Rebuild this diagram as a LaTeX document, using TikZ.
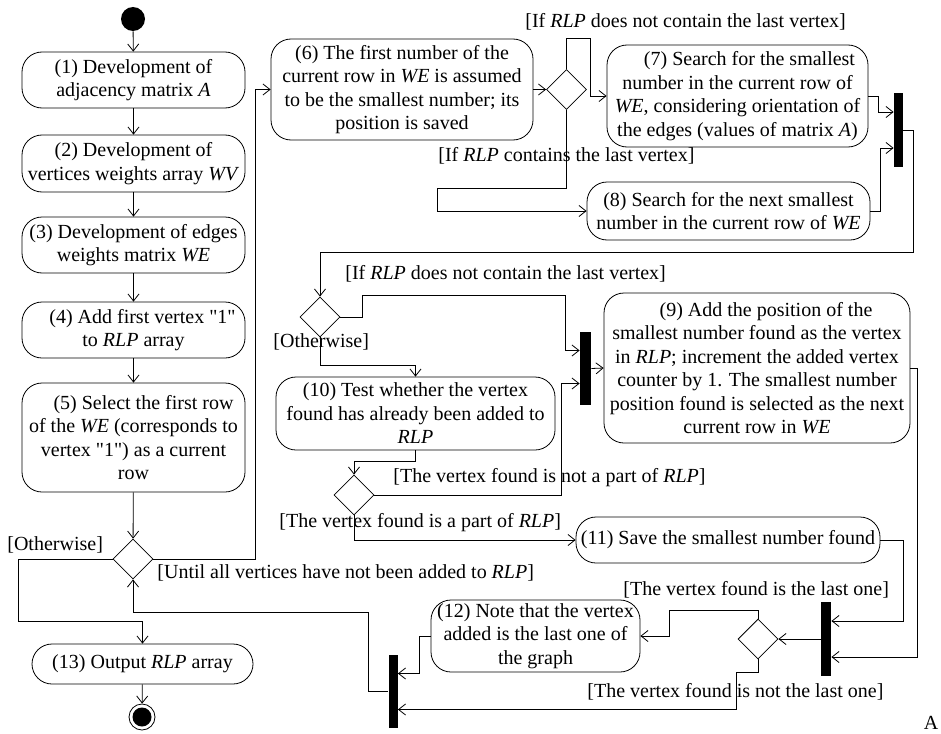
\documentclass[tikz,border=0pt]{standalone}
\usepackage{fontspec}
\setmainfont{Liberation Serif}
\newfontfamily\quotefont{Liberation Serif}
\newcommand{\dq}{{\quotefont"}}
\usetikzlibrary{shapes.geometric,arrows.meta}

\begin{document}
\begin{tikzpicture}[x=1pt, y=-1pt, line width=0.8pt,
    txt/.style={font=\fontsize{20}{23.5}\selectfont},
    act/.style={txt, draw, rounded corners=20pt, align=center, inner sep=2pt},
    choice/.style={draw, diamond, minimum width=40pt, minimum height=40pt, inner sep=0pt},
    bar/.style={fill=black, minimum width=9pt, minimum height=74pt, inner sep=0pt},
    guard/.style={txt, anchor=west, inner sep=0pt},
    flow/.style={-{Straight Barb[length=7pt,width=11pt]}}]
            \useasboundingbox (0,0) rectangle (941,733);
            \node[circle, fill=black, minimum size=24pt, inner sep=0pt] (start) at (133,19) {};
            \node[act, minimum width=223pt, minimum height=56pt] (1) at (133.5,80) {(1) Development of\\adjacency matrix \textit{A}};
            \node[act, minimum width=223pt, minimum height=57pt] (2) at (133.5,163.5) {(2) Development of\\vertices weights array \textit{WV}};
            \node[act, minimum width=223pt, minimum height=56pt] (3) at (133.5,245) {(3) Development of edges\\weights matrix \textit{WE}};
            \node[act, minimum width=223pt, minimum height=56pt] (4) at (133.5,330) {\hspace*{18pt}(4) Add first vertex \dq1\dq\\to \textit{RLP} array};
            \node[act, minimum width=223pt, minimum height=109pt] (5) at (133.5,437.5) {\hspace*{20pt}(5) Select the first row\\of the \textit{WE} (corresponds to\\vertex \dq1\dq) as a current\\row};
            \node[choice] (d1) at (133,559) {};
            \node[act, minimum width=221pt, minimum height=40pt] (13) at (142.5,664) {(13) Output \textit{RLP} array};
            \node[circle, draw, minimum size=26pt, inner sep=0pt,
                path picture={\fill (path picture bounding box.center) circle (9.5pt);}] (stop) at (142,717) {};
            \node[act, minimum width=262pt, minimum height=101pt] (6) at (402,89.5) {(6) The first number of the\\current row in \textit{WE} is assumed\\to be the smallest number; its\\position is saved};
            \node[choice] (d2) at (566.5,89.5) {};
            \node[act, minimum width=261pt, minimum height=102pt] (7) at (737.5,96) {\hspace*{24pt}(7) Search for the smallest\\number in the current row of\\\textit{WE}, considering orientation of\\the edges (values of matrix \textit{A})};
            \node[act, minimum width=283pt, minimum height=58pt] (8) at (728.5,211) {(8) Search for the next smallest\\number in the current row of \textit{WE}};
            \node[bar] (b1) at (898.5,130) {};
            \node[choice] (d3) at (320,317) {};
            \node[act, minimum width=279pt, minimum height=73pt] (10) at (415.5,413.5) {(10) Test whether the vertex\\found has already been added to\\\textit{RLP}};
            \node[bar, minimum width=11pt, minimum height=73pt] (b2) at (585.5,368.5) {};
            \node[act, minimum width=306pt, minimum height=150pt] (9) at (757,368) {\hspace*{18pt}(9) Add the position of the\\smallest number found as the vertex\\in \textit{RLP}; increment the added vertex\\counter by 1. The smallest number\\position found is selected as the next\\current row in \textit{WE}};
            \node[choice] (d5) at (354,495) {};
            \node[act, minimum width=304pt, minimum height=46pt] (11) at (728,540) {(11) Save the smallest number found};
            \node[bar, minimum width=10pt] (b3) at (826,639) {};
            \node[choice] (d4) at (758,639) {};
            \node[act, minimum width=209pt, minimum height=72pt] (12) at (535.5,636) {(12) Note that the vertex\\added is the last one of\\the graph};
            \node[bar, minimum height=73pt] (b4) at (393,691.5) {};
            \node[guard] (g1) at (7,545) {[Otherwise]};
            \node[guard] (g2) at (157,573) {[Until all vertices have not been added to \textit{RLP}]};
            \node[guard] (g3) at (525,22) {[If \textit{RLP} does not contain the last vertex]};
            \node[guard] (g4) at (438,156) {[If \textit{RLP} contains the last vertex]};
            \node[guard] (g5) at (345,274) {[If \textit{RLP} does not contain the last vertex]};
            \node[guard] (g6) at (273,342) {[Otherwise]};
            \node[guard] (g7) at (393,478) {[The vertex found is not a part of \textit{RLP}]};
            \node[guard] (g8) at (279,523) {[The vertex found is a part of \textit{RLP}]};
            \node[guard] (g9) at (623,590) {[The vertex found is the last one]};
            \node[guard] (g10) at (587,692) {[The vertex found is not the last one]};
            \node[txt] (mark) at (931,723) {A};
            \draw[flow] (start) -- (1);
            \draw[flow] (1) -- (2);
            \draw[flow] (2) -- (3);
            \draw[flow] (3) -- (4);
            \draw[flow] (4) -- (5);
            \draw[flow] (5) -- (d1);
            \draw[flow] (d1.west) -| (18,621) -| (13.north);
            \draw[flow] (13) -- (stop);
            \draw[flow] (d1.east) -| ([xshift=-15pt]6.west) -- (6.west);
            \draw[flow] (b4.west) -| (368,612) -| (d1.south);
            \draw[flow] (6) -- (d2);
            \draw[flow] (d2.north) |- (590,38) |- (7.west);
            \draw[flow] (d2.south) |- (437,188) |- (8.west);
            \draw[flow] (7.east) -- ++(10,0) |- ([yshift=18pt]b1.west);
            \draw[flow] (8.east) -- ++(10,0) |- ([yshift=-18pt]b1.west);
            \draw[flow] (b1.east) -- ++(10,0) -- ++(0,122) -| (d3.north);
            \draw[flow] (d3.east) -- ++(22,0) -- ++(0,-22) -| ([xshift=-14pt,yshift=18pt]b2.west) -- ([yshift=18pt]b2.west);
            \draw[flow] (d3.south) -- ++(0,28) -| (10.north);
            \draw[flow] (10.south) -- ++(0,11) -| (d5.north);
            \draw[flow] (d5.east) -| ([xshift=-18pt,yshift=-15pt]b2.west) -- ([yshift=-15pt]b2.west);
            \draw[flow] (d5.south) |- (11.west);
            \draw[flow] (b2.east) -- (9.west);
            \draw[flow] (9.east) -- ++(7,0) |- ([yshift=-18pt]b3.east);
            \draw[flow] (11.east) -- ++(23,0) |- ([yshift=18pt]b3.east);
            \draw[flow] (b3.west) -- (d4.east);
            \draw[flow] (d4.north) -- ++(0,-8) -| ([xshift=29pt]12.east) -- (12.east);
            \draw[flow] (d4.south) -- ++(0,13) -- ++(-22,0) |- ([yshift=-18pt]b4.east);
            \draw[flow] (12.west) -- ++(-11,0) |- ([yshift=18pt]b4.east);
        \end{tikzpicture}
\end{document}
